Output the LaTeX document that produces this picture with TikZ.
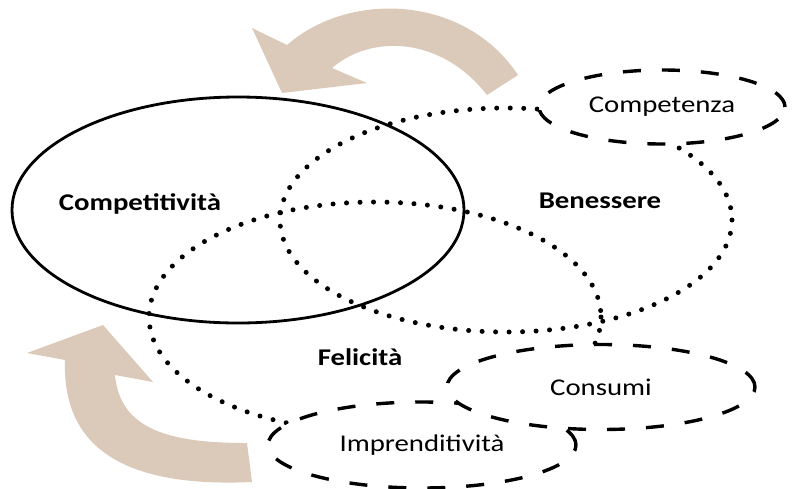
\documentclass[tikz,border=0pt]{standalone}
\usepackage{fontspec}
\setmainfont{Carlito}
\usetikzlibrary{shapes.geometric}
\definecolor{arrowtan}{RGB}{219,201,185}
\newcommand{\widetext}[1]{\scalebox{1.2}[1]{#1}}
\tikzset{
  dotring/.style={line width=5pt, line cap=round, dash pattern=on 0pt off 13.5pt},
  solidring/.style={line width=2.8pt},
  dashring/.style={draw, ellipse, fill=white, line width=3.4pt,
    dash pattern=on 18pt off 21pt, inner sep=0pt,
    font=\fontsize{24}{28}\selectfont},
  ringtext/.style={anchor=base, inner sep=0pt, font=\fontsize{24}{28}\selectfont\bfseries}
}
\begin{document}
\begin{tikzpicture}[x=1pt, y=-1pt]
        \useasboundingbox (0,0) rectangle (792,488);
        % Draw the curved arrows
        \fill[arrowtan] (518,75) .. controls (465,-5) and (350,-10) .. (287,45)
          -- (252,28) -- (282,93) -- (367,83) -- (332,68)
          .. controls (370,35) and (440,35) .. (487,95) -- cycle;
        \fill[arrowtan] (252,482) .. controls (120,488) and (62,445) .. (65,360)
          -- (27,353) -- (103,325) -- (153,382) -- (115,375)
          .. controls (120,430) and (170,443) .. (247,443) -- cycle;
        % Draw the dotted rings
        \draw[dotring] (506,220) ellipse [x radius=226, y radius=112];
        \draw[dotring] (375,317) ellipse [x radius=226, y radius=115];
        % Draw the solid ring
        \draw[solidring] (238,210) ellipse [x radius=226, y radius=113];
        % Draw the dashed rings
        \node[dashring, minimum width=308pt, minimum height=86pt] (impr) at (422,445) {\widetext{Imprenditività}};
        \node[dashring, minimum width=308pt, minimum height=85pt] (consumi) at (601,387) {\widetext{Consumi}};
        \node[dashring, minimum width=246pt, minimum height=74pt] (competenza) at (662,107) {\widetext{Competenza}};
        % Label the big rings
        \node[ringtext] (txtcompet) at (140,210) {\widetext{Competitività}};
        \node[ringtext] (txtbenes) at (600,208) {\widetext{Benessere}};
        \node[ringtext] (txtfelic) at (360,365) {\widetext{Felicità}};
    \end{tikzpicture}
\end{document}
